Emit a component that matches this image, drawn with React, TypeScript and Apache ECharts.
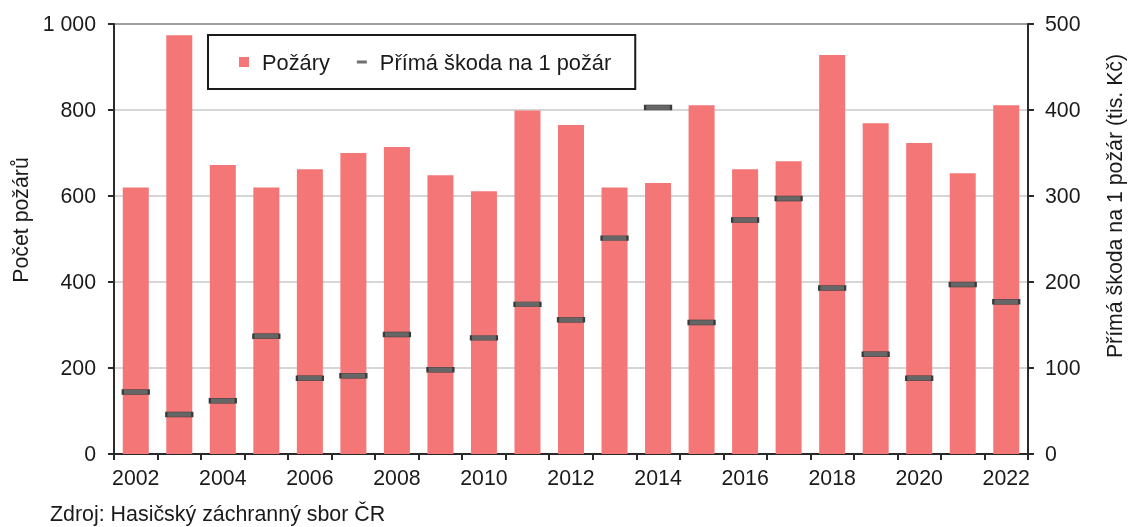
import React, { useEffect, useRef } from "react";
import * as echarts from "echarts";

const years = [
  "2002", "2003", "2004", "2005", "2006", "2007", "2008", "2009", "2010", "2011", "2012",
  "2013", "2014", "2015", "2016", "2017", "2018", "2019", "2020", "2021", "2022",
];
const fires = [620, 974, 672, 620, 662, 700, 714, 648, 611, 799, 765, 620, 630, 811, 662, 681, 928, 769, 723, 653, 811];
const damagePerFire = [72, 46, 62, 137, 88, 91, 139, 98, 135, 174, 156, 251, 403, 153, 272, 297, 193, 116, 88, 197, 177];

const leftTicks = { min: 0, max: 1000, interval: 200 };
const rightTicks = { min: 0, max: 500, interval: 100 };

const FIRE_NAME = "Požáry";
const DAMAGE_NAME = "Přímá škoda na 1 požár";
const LEFT_TITLE = "Počet požárů";
const RIGHT_TITLE = "Přímá škoda na 1 požár (tis. Kč)";
const SOURCE = "Zdroj: Hasičský záchranný sbor ČR";

const FONT = "'Liberation Sans', Arial, sans-serif";
const FS = 21.3;
const FS_LEG = 21.8;
const TXT = "#1a1a1a";
const AXIS = "#2a2a2a";

const thousands = (v: number) => String(v).replace(/\B(?=(\d{3})+(?!\d))/g, " ");

export default function App() {
  const ref = useRef<HTMLDivElement>(null);
  useEffect(() => {
    if (!ref.current) return;
    const chart = echarts.init(ref.current, undefined, { renderer: "svg" });
    chart.setOption({
      animation: false,
      textStyle: { fontFamily: FONT, color: TXT },
      grid: {
        left: 114,
        right: 97,
        top: 24,
        bottom: 73,
        show: true,
        borderColor: AXIS,
        borderWidth: 2,
        backgroundColor: "transparent",
      },
      legend: {
        left: 208,
        top: 35,
        orient: "horizontal",
        padding: [16, 24, 16, 31],
        borderColor: "#1a1a1a",
        borderWidth: 2,
        backgroundColor: "#fff",
        itemWidth: 10,
        itemHeight: 10,
        itemGap: 27,
        textStyle: { fontFamily: FONT, fontSize: FS_LEG, color: TXT, padding: [0, 0, 0, 8] },
        data: [
          { name: FIRE_NAME, icon: "rect" },
          {
            name: DAMAGE_NAME,
            icon: "path://M0,0 L0,0 Z M0,3.5 L10,3.5 L10,6.5 L0,6.5 Z M10,10 L10,10 Z",
            itemStyle: { color: "#707070", borderWidth: 0 },
          },
        ],
      },
      xAxis: {
        type: "category",
        data: years,
        boundaryGap: true,
        axisLine: { lineStyle: { color: AXIS, width: 2 } },
        axisTick: { show: true, interval: 0, length: 6, lineStyle: { color: AXIS, width: 2 } },
        axisLabel: { interval: 1, margin: 13, fontSize: FS, color: TXT, fontFamily: FONT },
      },
      yAxis: [
        {
          type: "value",
          ...leftTicks,
          position: "left",
          name: LEFT_TITLE,
          nameLocation: "middle",
          nameRotate: 90,
          nameGap: 81,
          nameTextStyle: { fontSize: FS, color: TXT, fontFamily: FONT, padding: [0, 0, 0, 38] },
          axisLine: { show: true, lineStyle: { color: AXIS, width: 2 } },
          axisTick: { show: true, length: 6, lineStyle: { color: AXIS, width: 2 } },
          axisLabel: { margin: 18, fontSize: FS, color: TXT, fontFamily: FONT, formatter: thousands },
          splitLine: { show: true, lineStyle: { color: "#c8c8c8", width: 1.5 } },
        },
        {
          type: "value",
          ...rightTicks,
          position: "right",
          name: RIGHT_TITLE,
          nameLocation: "middle",
          nameRotate: 90,
          nameGap: 76,
          nameTextStyle: { fontSize: FS, color: TXT, fontFamily: FONT, padding: [0, 0, 0, 66] },
          axisLine: { show: true, lineStyle: { color: AXIS, width: 2 } },
          axisTick: { show: true, length: 6, lineStyle: { color: AXIS, width: 2 } },
          axisLabel: { margin: 17, fontSize: FS, color: TXT, fontFamily: FONT },
          splitLine: { show: false },
        },
      ],
      series: [
        {
          name: FIRE_NAME,
          type: "bar",
          data: fires,
          barWidth: 26,
          itemStyle: { color: "#F47676" },
          yAxisIndex: 0,
          z: 2,
        },
        {
          name: DAMAGE_NAME,
          type: "scatter",
          data: damagePerFire,
          yAxisIndex: 1,
          symbol: "rect",
          symbolSize: [26, 5],
          itemStyle: { color: "#666666", borderColor: "#3a3a3a", borderWidth: 1, opacity: 1 },
          z: 3,
        },
      ],
      graphic: [
        {
          type: "text",
          left: 50,
          top: 503,
          style: { text: SOURCE, font: `21.4px ${FONT}`, fill: TXT },
        },
      ],
    });
    return () => chart.dispose();
  }, []);
  return (
    <div
      ref={ref}
      style={{ position: "fixed", left: 0, top: 0, width: 1133, height: 527 }}
    />
  );
}
